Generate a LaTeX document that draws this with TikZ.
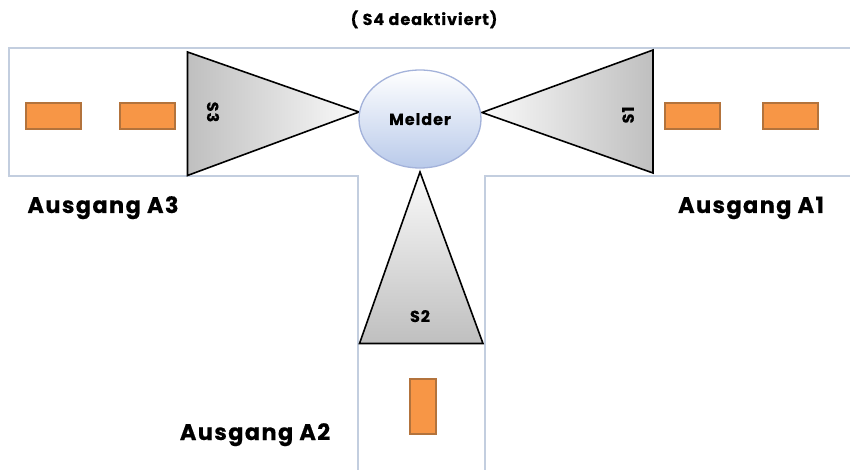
\documentclass[tikz,border=0pt]{standalone}
\usepackage{fontspec}
\usetikzlibrary{shapes.geometric}
\newfontfamily\labelfont[LetterSpace=6,FakeBold=0.4]{Poppins Bold}
\definecolor{wallc}{HTML}{C3CEDF}
\definecolor{carfill}{HTML}{F79646}
\definecolor{cardraw}{HTML}{B3733C}
\definecolor{ellc}{HTML}{A3B2DA}
\definecolor{ellb}{HTML}{B9CAEA}
\definecolor{gdark}{HTML}{BFBFBF}
\definecolor{glight}{HTML}{FAFAFA}
\tikzset{
  wall/.style={draw=wallc,line width=1.8pt},
  sensor/.style={draw=black,line width=1.6pt,line join=miter},
  car/.style={draw=cardraw,fill=carfill,line width=1.2pt},
  biglabel/.style={font=\labelfont\fontsize{22.5}{25}\selectfont,anchor=base,inner sep=0pt},
  smalllabel/.style={font=\labelfont\fontsize{16}{18}\selectfont,anchor=base,inner sep=0pt}
}
\begin{document}
\begin{tikzpicture}[x=1pt,y=-1pt]
\useasboundingbox (0,0) rectangle (850,470);
% walls
\draw[wall] (850,48) -- (9,48) -- (9,176) -- (358,176) -- (358,470);
\draw[wall] (485,470) -- (485,176) -- (850,176);
% cars
\draw[car] (26,103) rectangle (81,129);
\draw[car] (120,103) rectangle (175,129);
\draw[car] (665,103) rectangle (720,129);
\draw[car] (763,103) rectangle (818,129);
\draw[car] (410,379) rectangle (436,434);
% sensors
\draw[sensor,left color=gdark,right color=glight] (187.5,52) -- (359,112) -- (187.5,175.5) -- cycle;
\draw[sensor,left color=glight,right color=gdark] (653,50) -- (653,173) -- (482,112.5) -- cycle;
\draw[sensor,top color=glight,bottom color=gdark] (420,172) -- (483,343.5) -- (359.5,343.5) -- cycle;
% detector
\node[ellipse,draw=ellc,line width=1.3pt,top color=white,bottom color=ellb,minimum width=122pt,minimum height=98pt,inner sep=0pt] (melder) at (420,119) {};
\node[smalllabel] (melderlabel) at (420,125) {Melder};
% labels
\node[smalllabel,rotate=-90,anchor=center] (s3) at (213,112) {S3};
\node[smalllabel,rotate=90,anchor=center] (s1) at (628,115) {S1};
\node[smalllabel] (s2) at (420,322) {S2};
\node[smalllabel] (title) at (424,25) {( S4 deaktiviert)};
\node[biglabel] (a3) at (103,213) {Ausgang A3};
\node[biglabel] (a1) at (751,213) {Ausgang A1};
\node[biglabel] (a2) at (255,440) {Ausgang A2};
\end{tikzpicture}
\end{document}
